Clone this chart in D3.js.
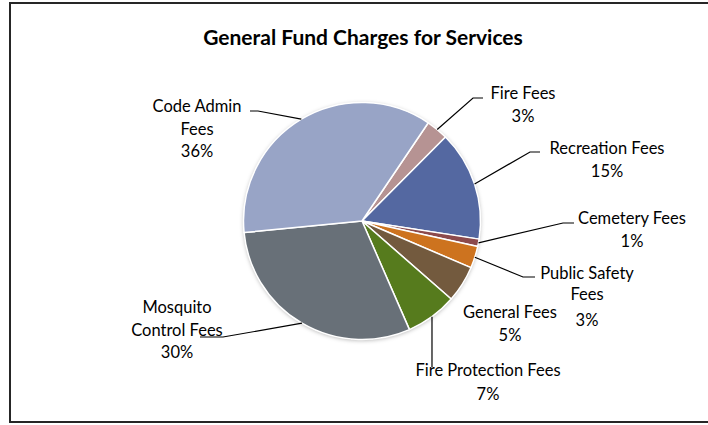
<!DOCTYPE html>
<html>
<head>
<meta charset="utf-8">
<script src="https://cdn.jsdelivr.net/npm/d3@7"></script>
<style>
  html, body { margin: 0; padding: 0; background: #fff; }
  svg { display: block; }
  text { font-family: Lato, "Open Sans", sans-serif; fill: #000; }
</style>
</head>
<body>
<svg id="chart" width="708" height="425"></svg>
<script>
// Share of general fund charges for services, by fee type (percent)
const categories = [
  "Fire Fees",
  "Recreation Fees",
  "Cemetery Fees",
  "Public Safety Fees",
  "General Fees",
  "Fire Protection Fees",
  "Mosquito Control Fees",
  "Code Admin Fees"
];
const shares = [3, 15, 1, 3, 5, 7, 30, 36];
const sliceColors = ["#b69393", "#5468a1", "#8c4a4c", "#cd731f", "#735a3e", "#567b1d", "#687078", "#98a4c6"];
const chartTitle = "General Fund Charges for Services";

// Label placement: anchor (centre x, first baseline), wrap width, leader elbow/end
const labelLayout = [
  { x: 523, y: 99,  wrap: 200, elbow: [473, 98],  end: [483, 98] },
  { x: 607, y: 154, wrap: 200, elbow: [530, 152], end: [540, 152] },
  { x: 632, y: 224, wrap: 200, elbow: [563, 223], end: [574, 223] },
  { x: 587, y: 279, wrap: 110, elbow: [523, 277], end: [535, 277], gaps: [21, 26] },
  { x: 510, y: 318, wrap: 200, elbow: null, end: null },
  { x: 488, y: 376, wrap: 200, drop: 367, gaps: [24] },
  { x: 177, y: 313, wrap: 100, elbow: [223, 337], end: [200, 337] },
  { x: 197, y: 112, wrap: 115, elbow: [258, 111], end: [250, 111] }
];

const svg = d3.select("#chart");
const cx = 362, cy = 221, radius = 118.5;
const lineGap = 22.5;
const startDeg = 34;

// Outer frame
svg.append("rect")
  .attr("x", 10).attr("y", 3)
  .attr("width", 720).attr("height", 419)
  .attr("fill", "#fff")
  .attr("stroke", "#262626")
  .attr("stroke-width", 2);

// Title
svg.append("text")
  .attr("x", 363).attr("y", 45)
  .attr("text-anchor", "middle")
  .style("font-size", "21px")
  .style("font-weight", "bold")
  .text(chartTitle);

// Soft shadow under the pie
const defs = svg.append("defs");
const f = defs.append("filter").attr("id", "pieShadow")
  .attr("x", "-20%").attr("y", "-20%").attr("width", "140%").attr("height", "140%");
f.append("feDropShadow")
  .attr("dx", 0).attr("dy", 1)
  .attr("stdDeviation", 2)
  .attr("flood-color", "#000")
  .attr("flood-opacity", 0.3);

const data = categories.map((c, i) => ({ name: c, value: shares[i], color: sliceColors[i], layout: labelLayout[i] }));

const pie = d3.pie()
  .value(d => d.value)
  .sort(null)
  .startAngle(startDeg * Math.PI / 180)
  .endAngle(startDeg * Math.PI / 180 + 2 * Math.PI);

const arcs = pie(data);
const arc = d3.arc().innerRadius(0).outerRadius(radius);

const g = svg.append("g").attr("transform", `translate(${cx},${cy})`);

g.append("circle")
  .attr("r", radius)
  .attr("fill", "#fff")
  .attr("filter", "url(#pieShadow)");

g.selectAll("path.slice")
  .data(arcs)
  .join("path")
  .attr("class", "slice")
  .attr("d", arc)
  .attr("fill", d => d.data.color)
  .attr("stroke", "#fff")
  .attr("stroke-width", 1.5)
  .attr("stroke-linejoin", "round");

// Point on the rim at the middle of a slice
function rimPoint(a) {
  const mid = (a.startAngle + a.endAngle) / 2;
  return [cx + radius * Math.sin(mid), cy - radius * Math.cos(mid)];
}

// Leader lines
const lineGen = d3.line();
arcs.forEach(a => {
  const L = a.data.layout;
  const p = rimPoint(a);
  let pts = null;
  if (L.elbow) pts = [p, L.elbow, L.end];
  else if (L.drop) pts = [p, [p[0], L.drop]];
  if (!pts) return;
  svg.append("path")
    .attr("d", lineGen(pts))
    .attr("fill", "none")
    .attr("stroke", "#000")
    .attr("stroke-width", 1.2);
});

// Data labels: category name (wrapped) and share
const fmt = d3.format(".0%");
const labelSize = 16.5;
const measurer = svg.append("text").style("font-size", labelSize + "px").attr("visibility", "hidden");
function wrapWords(str, maxW) {
  const words = str.split(" ");
  const lines = [];
  let cur = "";
  words.forEach(w => {
    const trial = cur ? cur + " " + w : w;
    measurer.text(trial);
    if (cur && measurer.node().getComputedTextLength() > maxW) {
      lines.push(cur);
      cur = w;
    } else {
      cur = trial;
    }
  });
  if (cur) lines.push(cur);
  return lines;
}

arcs.forEach(a => {
  const L = a.data.layout;
  const lines = wrapWords(a.data.name, L.wrap);
  lines.push(fmt(a.data.value / d3.sum(shares)));
  const t = svg.append("text")
    .attr("text-anchor", "middle")
    .style("font-size", labelSize + "px");
  let y = L.y;
  lines.forEach((ln, i) => {
    if (i > 0) y += (L.gaps && L.gaps[i - 1] != null) ? L.gaps[i - 1] : lineGap;
    t.append("tspan")
      .attr("x", L.x)
      .attr("y", y)
      .text(ln);
  });
});
measurer.remove();
</script>
</body>
</html>
